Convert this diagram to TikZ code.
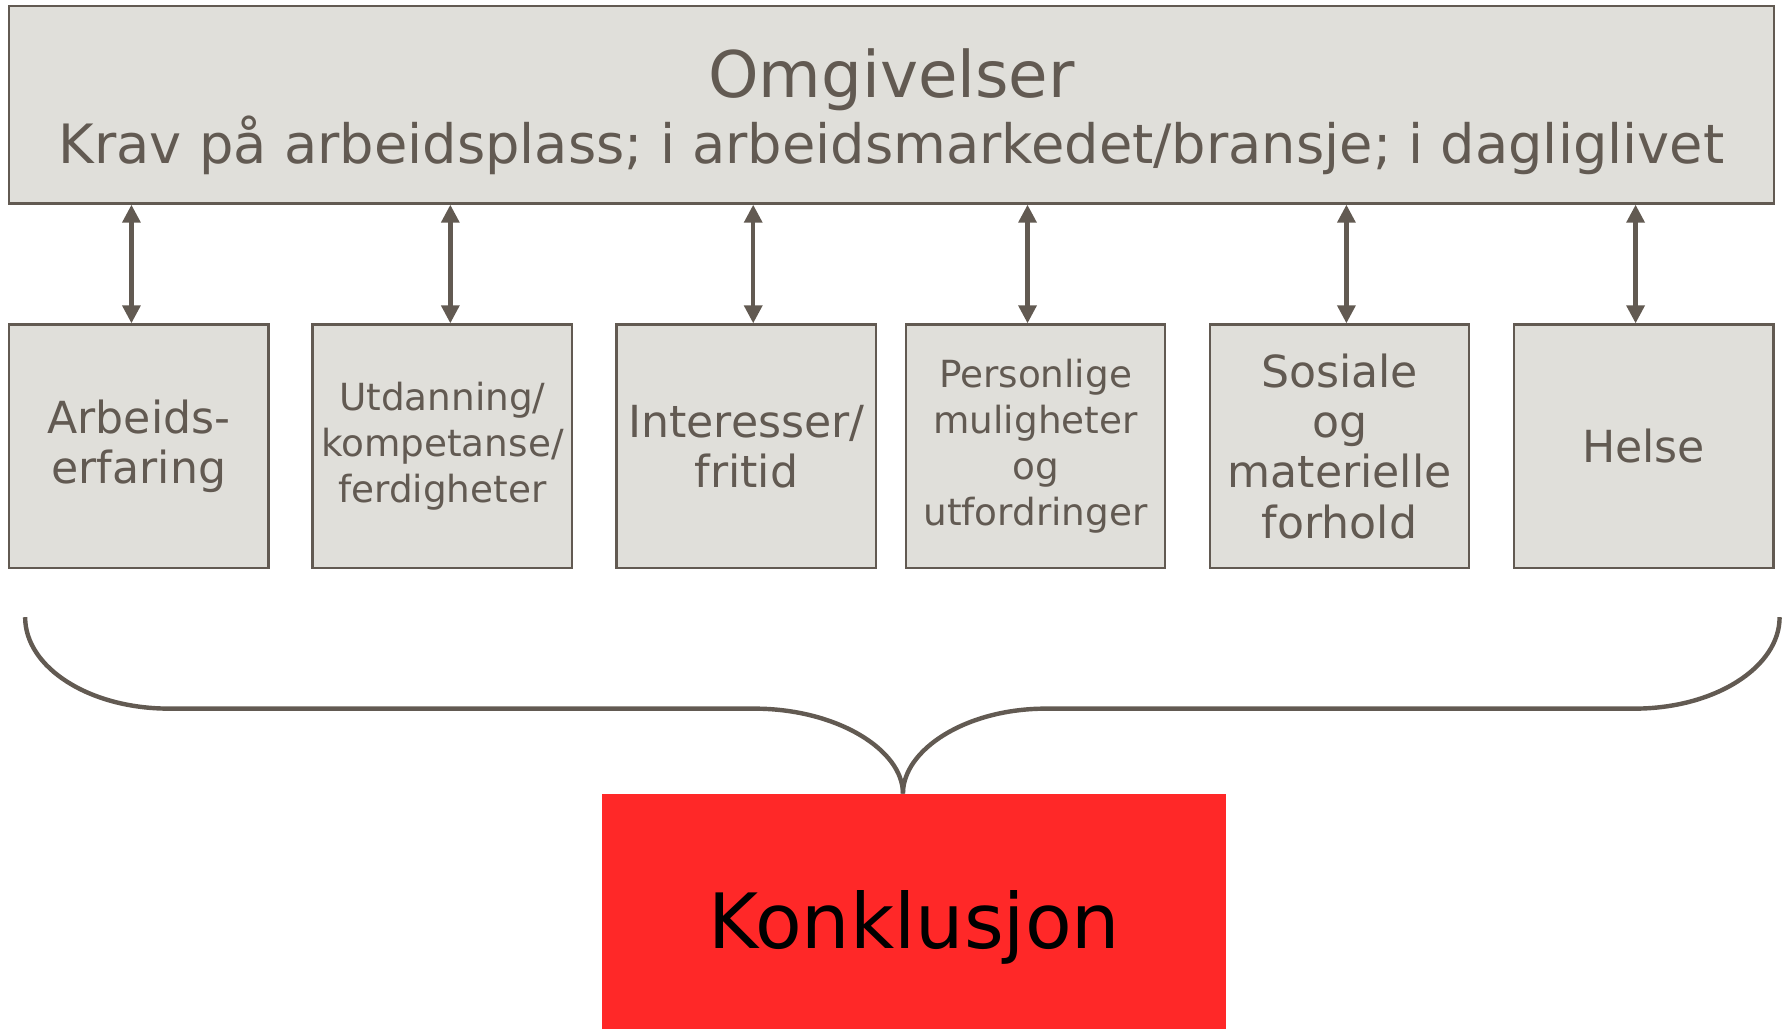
\documentclass[tikz,border=0pt]{standalone}
\usepackage{fontspec}
\setmainfont{DejaVu Sans}
\usetikzlibrary{arrows.meta}
\definecolor{omgfill}{RGB}{224,223,218}
\definecolor{omgline}{RGB}{98,90,82}
\definecolor{konkred}{RGB}{255,40,40}

\begin{document}
\begin{tikzpicture}[
  every faktor/.style={draw=omgline, fill=omgfill, line width=0.6pt, text=omgline, align=center, inner sep=0pt, minimum width=2.27cm, minimum height=2.13cm},
  faktor big/.style={every faktor, font=\fontsize{11}{12.5}\selectfont},
  faktor small/.style={every faktor, font=\fontsize{9.3}{11.5}\selectfont},
  link/.style={draw=omgline, line width=1.1pt, {Triangle[length=4.5pt,width=4.4pt]}-{Triangle[length=4.5pt,width=4.4pt]}},
  brace/.style={draw=omgline, line width=1.1pt}
]
\useasboundingbox (0,0) rectangle (15.6,9);
\node[draw=omgline, fill=omgfill, line width=0.6pt, inner sep=0pt, minimum width=15.44cm, minimum height=1.73cm] (omg) at (7.8,8.085) {};
\node[text=omgline, align=center, inner sep=0pt, font=\fontsize{13.5}{16.5}\selectfont] (omgtext) at ([yshift=-0.6mm]omg.center) {{\fontsize{16}{16.5}\selectfont Omgivelser}\\Krav på arbeidsplass; i arbeidsmarkedet/bransje; i dagliglivet};
\node[faktor big] (arbeid) at (1.215,5.095) {Arbeids-\\erfaring};
\node[faktor small] (utdanning) at (3.87,5.095) {Utdanning/\\kompetanse/\\ferdigheter};
\node[faktor big] (interesser) at (6.53,5.095) {Interesser/\\fritid};
\node[faktor small] (personlige) at (9.06,5.095) {Personlige\\muligheter\\og\\utfordringer};
\node[faktor big] (sosiale) at (11.72,5.095) {Sosiale\\og\\materielle\\forhold};
\node[faktor big] (helse) at (14.38,5.095) {Helse};
\draw[link] ([xshift=-0.65mm]arbeid.north) -- ([xshift=-0.65mm]arbeid.north |- omg.south);
\draw[link] ([xshift=0.7mm]utdanning.north) -- ([xshift=0.7mm]utdanning.north |- omg.south);
\draw[link] ([xshift=0.6mm]interesser.north) -- ([xshift=0.6mm]interesser.north |- omg.south);
\draw[link] ([xshift=-0.7mm]personlige.north) -- ([xshift=-0.7mm]personlige.north |- omg.south);
\draw[link] ([xshift=0.6mm]sosiale.north) -- ([xshift=0.6mm]sosiale.north |- omg.south);
\draw[link] ([xshift=-0.7mm]helse.north) -- ([xshift=-0.7mm]helse.north |- omg.south);
\node[fill=konkred, inner sep=0pt, minimum width=5.46cm, minimum height=2.32cm, font=\fontsize{19}{22}\selectfont] (konk) at (8.0,0.89) {Konklusjon};
\coordinate (braceL) at (0.22,3.60);
\coordinate (braceR) at (15.57,3.60);
\draw[brace] (braceL) .. controls (0.22,3.16) and (0.78,2.80) .. (1.48,2.80) -- (6.60,2.80) .. controls (7.32,2.80) and (7.90,2.44) .. ([xshift=-1mm]konk.north);
\draw[brace] (braceR) .. controls (15.57,3.16) and (15.0,2.80) .. (14.30,2.80) -- (9.15,2.80) .. controls (8.45,2.80) and (7.90,2.44) .. ([xshift=-1mm]konk.north);
\end{tikzpicture}
\end{document}
